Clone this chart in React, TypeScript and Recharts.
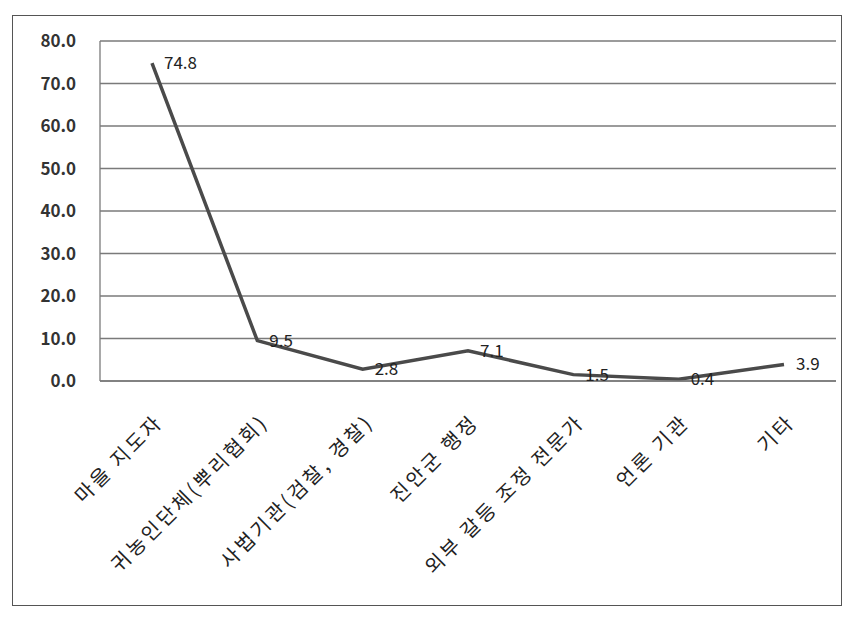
import { LineChart, Line, XAxis, YAxis, CartesianGrid, LabelList } from 'recharts';

const categories = ['마을 지도자', '귀농인단체(뿌리협회)', '사법기관(검찰, 경찰)', '진안군 행정', '외부 갈등 조정 전문가', '언론 기관', '기타'];
const shares = [74.8, 9.5, 2.8, 7.1, 1.5, 0.4, 3.9];
const yTicks = [0, 10, 20, 30, 40, 50, 60, 70, 80];

const data = categories.map((name, i) => ({ name, value: shares[i] }));

const font = '"Noto Sans CJK KR", "Noto Sans", sans-serif';

// category names, slanted up to the right and ending under their point
const CategoryTick = (props: any) => {
  const { x, y, payload } = props;
  return (
    <g transform={`translate(${x + 8},${y + 30})`}>
      <text
        transform="rotate(-45)"
        textAnchor="end"
        dy={6}
        fontSize={20}
        letterSpacing={3}
        fill="#222"
        fontFamily={font}
      >
        {payload.value}
      </text>
    </g>
  );
};

const ValueLabel = (props: any) => {
  const { x, y, value } = props;
  return (
    <text x={x + 12} y={y + 6} fontSize={17} fill="#222" fontFamily={font}>
      {Number(value).toFixed(1)}
    </text>
  );
};

export default function App() {
  return (
    <div style={{ position: 'absolute', left: 0, top: 0, width: 853, height: 618, background: '#fff' }}>
      <div
        style={{
          position: 'absolute',
          left: 12,
          top: 15,
          width: 830,
          height: 591,
          border: '1.5px solid #555',
          boxSizing: 'border-box',
        }}
      />
      <LineChart
        width={853}
        height={618}
        data={data}
        margin={{ top: 41, right: 17, bottom: 0, left: 0 }}
        style={{ position: 'absolute', left: 0, top: 0 }}
      >
        <CartesianGrid vertical={false} stroke="#7a7a7a" strokeWidth={1.3} />
        <XAxis
          dataKey="name"
          height={237}
          interval={0}
          padding={{ left: 52, right: 52 }}
          tickLine={false}
          axisLine={{ stroke: '#7a7a7a', strokeWidth: 1.3 }}
          tick={<CategoryTick />}
        />
        <YAxis
          width={100}
          domain={[0, 80]}
          ticks={yTicks}
          tickFormatter={(v: number) => v.toFixed(1)}
          tickLine={false}
          tickMargin={18}
          axisLine={{ stroke: '#7a7a7a', strokeWidth: 1.3 }}
          tick={{ fontSize: 17, fontWeight: 700, fill: '#333', fontFamily: font }}
        />
        <Line
          type="linear"
          dataKey="value"
          stroke="#4a4a4a"
          strokeWidth={3.5}
          dot={false}
          isAnimationActive={false}
        >
          <LabelList dataKey="value" content={<ValueLabel />} />
        </Line>
      </LineChart>
    </div>
  );
}
